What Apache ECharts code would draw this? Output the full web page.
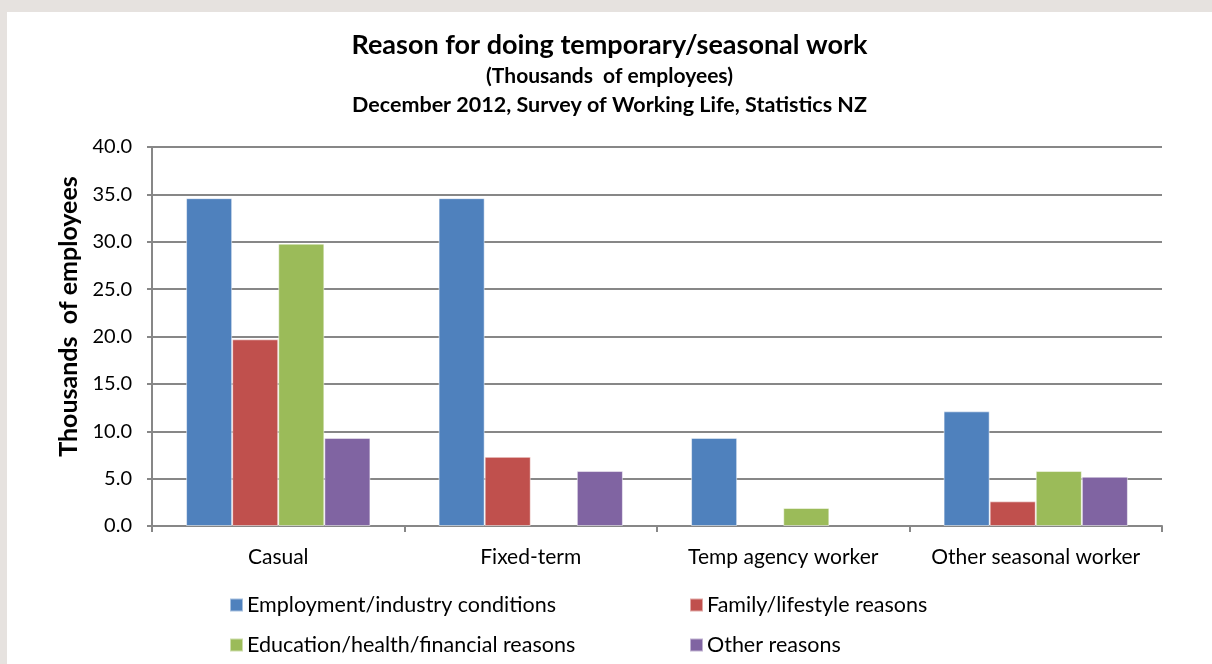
<!DOCTYPE html>
<html>
<head>
<meta charset="utf-8">
<script src="https://cdn.jsdelivr.net/npm/echarts@6/dist/echarts.min.js"></script>
<style>
    html, body { margin: 0; padding: 0; background: #e6e2df; }
    #chart { position: absolute; left: 7px; top: 12px; width: 1205px; height: 652px; background: #fff; }
</style>
</head>
<body>
<div id="chart"></div>
<script>
// data
var categories = ["Casual", "Fixed-term", "Temp agency worker", "Other seasonal worker"];
var employment = [34.6, 34.6, 9.3, 12.1];
var family = [19.7, 7.3, null, 2.6];
var education = [29.8, null, 1.9, 5.8];
var other = [9.3, 5.8, null, 5.2];
var seriesNames = ["Employment/industry conditions", "Family/lifestyle reasons",
    "Education/health/financial reasons", "Other reasons"];

var font = "Lato, 'Open Sans', sans-serif";
var gridGray = "#878787";

var myChart = echarts.init(document.getElementById("chart"));

function bar(name, data, color) {
    return {
        name: name,
        type: "bar",
        data: data,
        barGap: "0%",
        barCategoryGap: "27%",
        itemStyle: { color: color, borderColor: "rgba(255,255,255,0.5)", borderWidth: 1 }
    };
}

var legendCommon = {
    orient: "vertical",
    top: 582,
    padding: 0,
    itemWidth: 13,
    itemHeight: 13,
    itemGap: 18,
    icon: "rect",
    textStyle: { fontFamily: font, fontSize: 21.5, color: "#000", padding: [0, 0, 0, -1] }
};

var option = {
    animation: false,
    title: [
        {
            text: "Reason for doing temporary/seasonal work",
            left: "center",
            top: 15,
            textStyle: { fontFamily: font, fontSize: 27, fontWeight: "bold", color: "#000" }
        },
        {
            text: "(Thousands  of employees)",
            left: "center",
            top: 49,
            textStyle: { fontFamily: font, fontSize: 21, fontWeight: "bold", color: "#000" }
        },
        {
            text: "December 2012, Survey of Working Life, Statistics NZ",
            left: "center",
            top: 77,
            textStyle: { fontFamily: font, fontSize: 21.5, fontWeight: "bold", color: "#000" }
        }
    ],
    legend: [
        Object.assign({ left: 222, data: [seriesNames[0], seriesNames[2]] }, legendCommon),
        Object.assign({ left: 682, data: [seriesNames[1], seriesNames[3]] }, legendCommon)
    ],
    grid: { left: 145, right: 50, top: 135, bottom: 138 },
    xAxis: {
        type: "category",
        data: categories,
        axisLine: { lineStyle: { color: gridGray, width: 2 } },
        axisTick: { show: true, length: 6, lineStyle: { color: gridGray, width: 2 } },
        axisLabel: { interval: 0, fontFamily: font, fontSize: 21, color: "#000", margin: 21 }
    },
    yAxis: {
        type: "value",
        min: 0,
        max: 40,
        interval: 5,
        name: "Thousands  of employees",
        nameLocation: "middle",
        nameGap: 71,
        nameTextStyle: { fontFamily: font, fontSize: 25, fontWeight: "bold", color: "#000", padding: [0, 0, 0, 40] },
        axisLine: { show: true, lineStyle: { color: gridGray, width: 2 } },
        axisTick: { show: true, length: 5, lineStyle: { color: gridGray, width: 2 } },
        axisLabel: {
            fontFamily: font, fontSize: 20, color: "#000", margin: 20,
            formatter: function (v) { return v.toFixed(1); }
        },
        splitLine: { lineStyle: { color: gridGray, width: 2 } }
    },
    series: [
        bar(seriesNames[0], employment, "#4f81bd"),
        bar(seriesNames[1], family, "#c0504d"),
        bar(seriesNames[2], education, "#9bbb59"),
        bar(seriesNames[3], other, "#8064a2")
    ]
};
myChart.setOption(option);
</script>
</body>
</html>
